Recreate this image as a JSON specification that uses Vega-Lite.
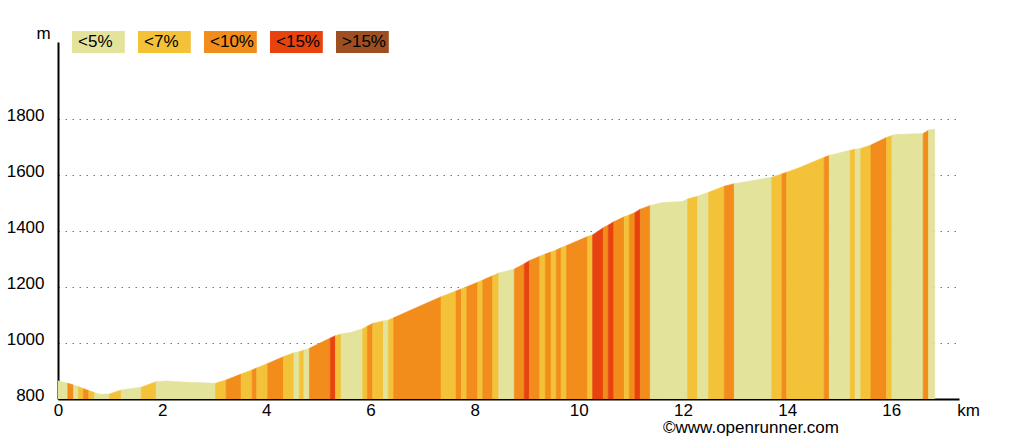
{
  "$schema": "https://vega.github.io/schema/vega-lite/v6.json",
  "width": 901,
  "height": 357,
  "autosize": "none",
  "padding": {"left": 58, "top": 42, "right": 65, "bottom": 40},
  "background": "white",
  "config": {"view": {"stroke": null}, "font": "Liberation Sans"},
  "title": {"text": "©www.openrunner.com", "orient": "bottom", "anchor": "end", "frame": "group", "fontSize": 17, "fontWeight": "normal", "font": "Liberation Sans", "color": "black", "dx": -120, "offset": 2},
  "data": {"values": [
    {"s": 1, "c": "<5%", "k": [0, 0.188], "e": [865, 856]},
    {"s": 2, "c": "<10%", "k": [0.188, 0.298], "e": [856, 850]},
    {"s": 3, "c": "<5%", "k": [0.298, 0.393], "e": [850, 844]},
    {"s": 4, "c": "<7%", "k": [0.393, 0.489], "e": [844, 837]},
    {"s": 5, "c": "<10%", "k": [0.489, 0.591], "e": [837, 830]},
    {"s": 6, "c": "<7%", "k": [0.591, 0.701], "e": [830, 823]},
    {"s": 7, "c": "<5%", "k": [0.701, 0.797, 0.988], "e": [823, 817, 818]},
    {"s": 8, "c": "<7%", "k": [0.988, 1.213], "e": [818, 832]},
    {"s": 9, "c": "<5%", "k": [1.213, 1.597], "e": [832, 842]},
    {"s": 10, "c": "<7%", "k": [1.597, 1.885], "e": [842, 862]},
    {"s": 11, "c": "<5%", "k": [1.885, 2.077, 2.461, 3.023], "e": [862, 864, 860, 856]},
    {"s": 12, "c": "<7%", "k": [3.023, 3.228], "e": [856, 868]},
    {"s": 13, "c": "<10%", "k": [3.228, 3.516], "e": [868, 889]},
    {"s": 14, "c": "<7%", "k": [3.516, 3.727], "e": [889, 904]},
    {"s": 15, "c": "<10%", "k": [3.727, 3.816], "e": [904, 911]},
    {"s": 16, "c": "<7%", "k": [3.816, 4.027], "e": [911, 927]},
    {"s": 17, "c": "<10%", "k": [4.027, 4.328], "e": [927, 951]},
    {"s": 18, "c": "<7%", "k": [4.328, 4.53], "e": [951, 965]},
    {"s": 19, "c": "<5%", "k": [4.53, 4.635], "e": [965, 969]},
    {"s": 20, "c": "<7%", "k": [4.635, 4.722], "e": [969, 975]},
    {"s": 21, "c": "<5%", "k": [4.722, 4.827], "e": [975, 981]},
    {"s": 22, "c": "<10%", "k": [4.827, 5.23], "e": [981, 1018]},
    {"s": 23, "c": "<15%", "k": [5.23, 5.326], "e": [1018, 1026]},
    {"s": 24, "c": "<7%", "k": [5.326, 5.436], "e": [1026, 1032]},
    {"s": 25, "c": "<5%", "k": [5.436, 5.633, 5.85], "e": [1032, 1038, 1051]},
    {"s": 26, "c": "<7%", "k": [5.85, 5.94], "e": [1051, 1060]},
    {"s": 27, "c": "<10%", "k": [5.94, 6.042], "e": [1060, 1070]},
    {"s": 28, "c": "<7%", "k": [6.042, 6.248], "e": [1070, 1079]},
    {"s": 29, "c": "<5%", "k": [6.248, 6.344], "e": [1079, 1082]},
    {"s": 30, "c": "<7%", "k": [6.344, 6.445], "e": [1082, 1090]},
    {"s": 31, "c": "<10%", "k": [6.445, 6.779, 7.355], "e": [1090, 1118, 1165]},
    {"s": 32, "c": "<7%", "k": [7.355, 7.643], "e": [1165, 1186]},
    {"s": 33, "c": "<10%", "k": [7.643, 7.745], "e": [1186, 1193]},
    {"s": 34, "c": "<7%", "k": [7.745, 7.85], "e": [1193, 1201]},
    {"s": 35, "c": "<10%", "k": [7.85, 8.058], "e": [1201, 1217]},
    {"s": 36, "c": "<7%", "k": [8.058, 8.157], "e": [1217, 1225]},
    {"s": 37, "c": "<10%", "k": [8.157, 8.345], "e": [1225, 1240]},
    {"s": 38, "c": "<7%", "k": [8.345, 8.464], "e": [1240, 1250]},
    {"s": 39, "c": "<5%", "k": [8.464, 8.762], "e": [1250, 1264]},
    {"s": 40, "c": "<10%", "k": [8.762, 8.954], "e": [1264, 1283]},
    {"s": 41, "c": "<15%", "k": [8.954, 9.05], "e": [1283, 1294]},
    {"s": 42, "c": "<10%", "k": [9.05, 9.251], "e": [1294, 1310]},
    {"s": 43, "c": "<7%", "k": [9.251, 9.357], "e": [1310, 1318]},
    {"s": 44, "c": "<10%", "k": [9.357, 9.466], "e": [1318, 1325]},
    {"s": 45, "c": "<7%", "k": [9.466, 9.568], "e": [1325, 1332]},
    {"s": 46, "c": "<10%", "k": [9.568, 9.658], "e": [1332, 1340]},
    {"s": 47, "c": "<7%", "k": [9.658, 9.766], "e": [1340, 1348]},
    {"s": 48, "c": "<10%", "k": [9.766, 10.169], "e": [1348, 1380]},
    {"s": 49, "c": "<7%", "k": [10.169, 10.265], "e": [1380, 1386]},
    {"s": 50, "c": "<15%", "k": [10.265, 10.47], "e": [1386, 1412]},
    {"s": 51, "c": "<10%", "k": [10.47, 10.566], "e": [1412, 1421]},
    {"s": 52, "c": "<15%", "k": [10.566, 10.672], "e": [1421, 1433]},
    {"s": 53, "c": "<10%", "k": [10.672, 10.873], "e": [1433, 1451]},
    {"s": 54, "c": "<7%", "k": [10.873, 10.969], "e": [1451, 1457]},
    {"s": 55, "c": "<10%", "k": [10.969, 11.079], "e": [1457, 1466]},
    {"s": 56, "c": "<15%", "k": [11.079, 11.18], "e": [1466, 1478]},
    {"s": 57, "c": "<10%", "k": [11.18, 11.372], "e": [1478, 1491]},
    {"s": 58, "c": "<5%", "k": [11.372, 11.608, 11.987, 12.088], "e": [1491, 1502, 1505, 1514]},
    {"s": 59, "c": "<7%", "k": [12.088, 12.28], "e": [1514, 1524]},
    {"s": 60, "c": "<5%", "k": [12.28, 12.491], "e": [1524, 1538]},
    {"s": 61, "c": "<7%", "k": [12.491, 12.793], "e": [1538, 1560]},
    {"s": 62, "c": "<10%", "k": [12.793, 12.985], "e": [1560, 1569]},
    {"s": 63, "c": "<5%", "k": [12.985, 13.273, 13.704], "e": [1569, 1578, 1592]},
    {"s": 64, "c": "<7%", "k": [13.704, 13.9], "e": [1592, 1604]},
    {"s": 65, "c": "<10%", "k": [13.9, 13.992], "e": [1604, 1610]},
    {"s": 66, "c": "<7%", "k": [13.992, 14.232, 14.712], "e": [1610, 1626, 1663]},
    {"s": 67, "c": "<10%", "k": [14.712, 14.808], "e": [1663, 1670]},
    {"s": 68, "c": "<5%", "k": [14.808, 15.211], "e": [1670, 1688]},
    {"s": 69, "c": "<7%", "k": [15.211, 15.307], "e": [1688, 1692]},
    {"s": 70, "c": "<5%", "k": [15.307, 15.413], "e": [1692, 1695]},
    {"s": 71, "c": "<7%", "k": [15.413, 15.608], "e": [1695, 1707]},
    {"s": 72, "c": "<10%", "k": [15.608, 15.908], "e": [1707, 1734]},
    {"s": 73, "c": "<7%", "k": [15.908, 16.012], "e": [1734, 1741]},
    {"s": 74, "c": "<5%", "k": [16.012, 16.088, 16.612], "e": [1741, 1745, 1748]},
    {"s": 75, "c": "<10%", "k": [16.612, 16.714], "e": [1748, 1760]},
    {"s": 76, "c": "<5%", "k": [16.714, 16.833], "e": [1760, 1764]}
  ]},
  "transform": [{"flatten": ["k", "e"]}],
  "mark": {"type": "area", "clip": true, "interpolate": "linear", "strokeWidth": 0.6},
  "encoding": {
    "x": {
      "field": "k", "type": "quantitative",
      "scale": {"domain": [0, 17.3], "nice": false, "zero": false},
      "axis": {
        "values": [0, 2, 4, 6, 8, 10, 12, 14, 16],
        "grid": false, "ticks": false,
        "domainColor": "black", "domainWidth": 2,
        "labelFont": "Liberation Sans", "labelFontSize": 17, "labelColor": "black",
        "labelPadding": 3, "labelDx": -3, "labelFlush": false, "labelOverlap": false,
        "format": "d",
        "title": "km", "titleFont": "Liberation Sans", "titleFontSize": 17, "titleFontWeight": "normal", "titleColor": "black",
        "titleAlign": "center", "titleBaseline": "middle", "titleX": 910, "titleY": 11
      }
    },
    "y": {
      "field": "e", "type": "quantitative", "stack": null,
      "scale": {"domain": [800, 2075], "nice": false, "zero": false},
      "axis": {
        "values": [800, 1000, 1200, 1400, 1600, 1800],
        "grid": true, "gridDash": [1.5, 5.5], "gridColor": "#777777", "gridWidth": 1.2,
        "ticks": false,
        "domainColor": "black", "domainWidth": 2,
        "labelFont": "Liberation Sans", "labelFontSize": 17, "labelColor": "black",
        "labelPadding": 14, "labelOffset": -4, "labelFlush": false, "labelOverlap": false,
        "format": "d",
        "title": "m", "titleFont": "Liberation Sans", "titleFontSize": 17, "titleFontWeight": "normal", "titleColor": "black",
        "titleAngle": 0, "titleAlign": "center", "titleBaseline": "middle", "titleX": -15, "titleY": -9
      }
    },
    "y2": {"datum": 800},
    "detail": {"field": "s", "type": "nominal"},
    "color": {
      "field": "c", "type": "nominal",
      "scale": {"domain": ["<5%", "<7%", "<10%", "<15%", ">15%"], "range": ["#e3e39c", "#f3c238", "#f28c1a", "#e8420e", "#9d4f22"]},
      "legend": {
        "orient": "none", "legendX": 14, "legendY": -11, "direction": "horizontal", "columns": 5,
        "title": null, "padding": 0, "gridAlign": "all", "columnPadding": 13,
        "symbolType": "M-1,-1H3.8V1H-1Z", "symbolSize": 484, "symbolStrokeWidth": 0, "symbolOpacity": 1,
        "labelFont": "Liberation Sans", "labelFontSize": 17, "labelColor": "black", "labelOffset": -16
      }
    },
    "stroke": {
      "field": "c", "type": "nominal", "legend": null,
      "scale": {"domain": ["<5%", "<7%", "<10%", "<15%", ">15%"], "range": ["#e3e39c", "#f3c238", "#f28c1a", "#e8420e", "#9d4f22"]}
    }
  }
}
